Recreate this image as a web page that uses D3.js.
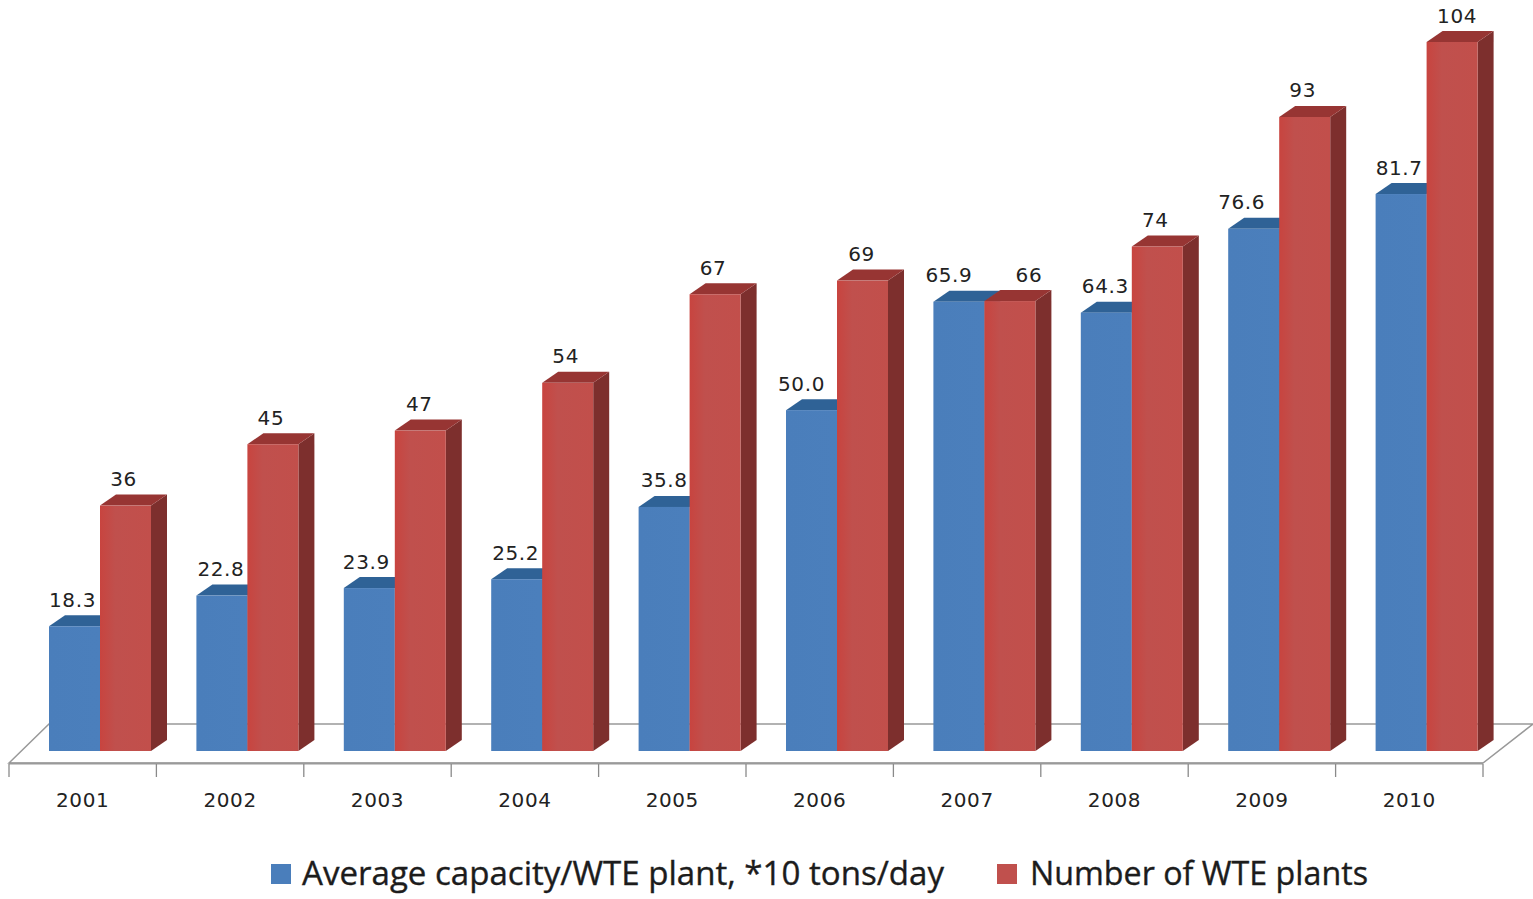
<!DOCTYPE html>
<html><head><meta charset="utf-8">
<style>html,body{margin:0;padding:0;background:#fff;overflow:hidden}svg{display:block}</style>
<script src="https://cdn.jsdelivr.net/npm/d3@7/dist/d3.min.js"></script></head>
<body><svg id="c" width="1533" height="899"></svg>
<script>
const years = ["2001","2002","2003","2004","2005","2006","2007","2008","2009","2010"];
const capacity = [18.3,22.8,23.9,25.2,35.8,50.0,65.9,64.3,76.6,81.7];
const plants = [36,45,47,54,67,69,66,74,93,104];
const seriesNames = ["Average capacity/WTE plant, *10 tons/day","Number of WTE plants"];
const capacityLabelShift = [-2,-1,-3,-1,0,-10,-10,-1,-12,-2];
const plantsLabelShift = [-2,-2,-1,-2,-2,-1,19,-2,-2,5];

const svg = d3.select("#c");
const W = {depthX:16, depthY:11, barW:51, barInset:40};
const y = d3.scaleLinear().domain([0,104]).range([751,42]);
const xBand = d3.scaleBand().domain(years).range([9,1483]);
const fontNum = "'DejaVu Sans',sans-serif";
const defs = svg.append("defs");
function grad(id,stops){
  const g=defs.append("linearGradient").attr("id",id).attr("x1",0).attr("x2",1).attr("y1",0).attr("y2",0);
  stops.forEach(s=>g.append("stop").attr("offset",s[0]).attr("stop-color",s[1]));
}
grad("gb",[[0,"#4a7ebb"],[1,"#4b7fbc"]]);
grad("gr",[[0,"#c8443f"],[0.3,"#c0504d"],[1,"#c24f4b"]]);

// floor
const fl = svg.append("g");
fl.append("polygon").attr("fill","#fff").attr("stroke","#999").attr("stroke-width",1.5)
  .attr("points",[[9,763],[49,724],[1533,724],[1483,763]].join(" "));
fl.append("line").attr("x1",9).attr("x2",1483).attr("y1",763.5).attr("y2",763.5).attr("stroke","#9a9a9a").attr("stroke-width",2);
const tickPositions = years.map(d=>xBand(d)).concat([xBand.range()[1]]);
fl.selectAll("line.t").data(tickPositions).join("line").attr("class","t")
  .attr("x1",d=>d).attr("x2",d=>d).attr("y1",764).attr("y2",777).attr("stroke","#8a8a8a").attr("stroke-width",1.3);

function bar3d(g,x0,val,c){
  const t=y(val), b=y(0), w=W.barW, dx=W.depthX, dy=W.depthY;
  g.append("polygon").attr("fill",c.side).attr("points",[[x0+w,t],[x0+w+dx,t-dy],[x0+w+dx,b-dy],[x0+w,b]].join(" "));
  g.append("polygon").attr("fill",c.top).attr("points",[[x0,t],[x0+dx,t-dy],[x0+w+dx,t-dy],[x0+w,t]].join(" "));
  g.append("rect").attr("x",x0).attr("y",t).attr("width",w).attr("height",b-t).attr("fill",c.front);
}
const cBlue={front:"url(#gb)",top:"#2f6296",side:"#2f5f92"};
const cRed={front:"url(#gr)",top:"#973533",side:"#7d2f2d"};
const bars=svg.append("g");
years.forEach((yr,i)=>{
  const g=bars.append("g");
  const x0=xBand(yr)+W.barInset;
  bar3d(g,x0,capacity[i],cBlue);
  bar3d(g,x0+W.barW,plants[i],cRed);
});
// labels
const lab=svg.append("g").attr("font-family",fontNum).attr("font-size",20).attr("letter-spacing",0.6).attr("fill","#222").attr("text-anchor","middle");
years.forEach((yr,i)=>{
  const x0=xBand(yr)+W.barInset;
  lab.append("text").attr("x",x0+W.barW/2+capacityLabelShift[i]).attr("y",y(capacity[i])-19.5).text(capacity[i].toFixed(1));
  lab.append("text").attr("x",x0+W.barW*1.5+plantsLabelShift[i]).attr("y",y(plants[i])-19.5).text(plants[i]);
  lab.append("text").attr("x",xBand(yr)+xBand.bandwidth()/2).attr("y",807).text(yr);
});
// legend
const leg=svg.append("g").attr("font-family","'Open Sans',sans-serif").attr("font-size",32).attr("fill","#1c1c1c").attr("stroke","#1c1c1c").attr("stroke-width",0.35);
[[271,302,"#4a7ebb",642],[997,1030,"#c0504d",338]].forEach((l,i)=>{
  leg.append("rect").attr("x",l[0]).attr("y",864).attr("width",20).attr("height",20).attr("fill",l[2]).attr("stroke","none");
  leg.append("text").attr("x",l[1]).attr("y",885).attr("textLength",l[3]).attr("lengthAdjust","spacingAndGlyphs").text(seriesNames[i]);
});
</script></body></html>
